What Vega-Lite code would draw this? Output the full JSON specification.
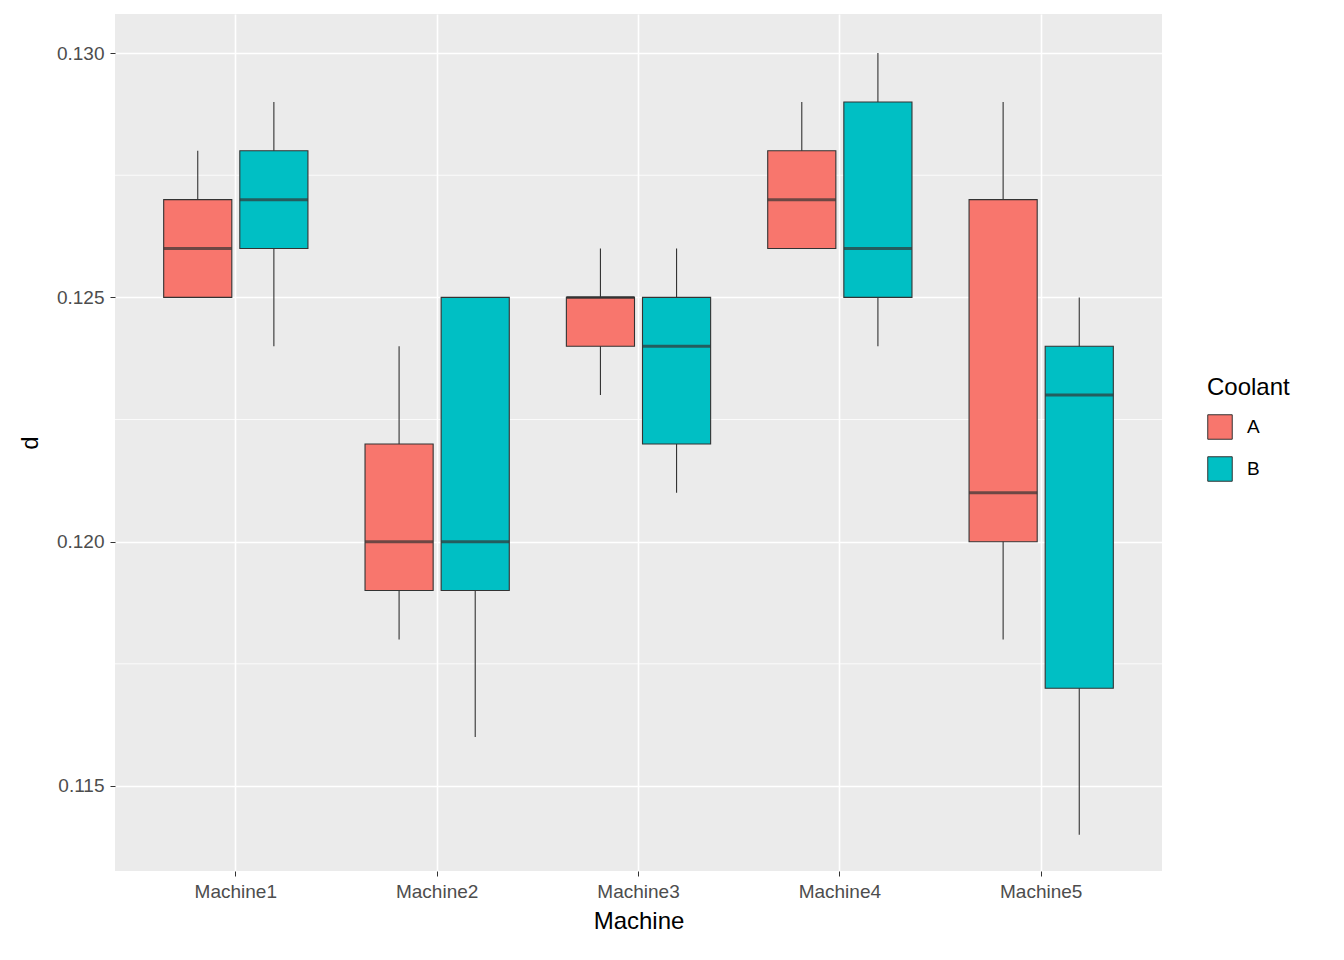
{
  "$schema": "https://vega.github.io/schema/vega-lite/v6.json",
  "width": 1047,
  "height": 857,
  "autosize": {"type": "pad"},
  "padding": {"left": 18, "top": 14, "right": 5, "bottom": 5},
  "datasets": {
    "box": [
      {"Machine": "Machine1", "Coolant": "A", "lower": 0.125, "q1": 0.125, "median": 0.126, "q3": 0.127, "upper": 0.128},
      {"Machine": "Machine1", "Coolant": "B", "lower": 0.124, "q1": 0.126, "median": 0.127, "q3": 0.128, "upper": 0.129},
      {"Machine": "Machine2", "Coolant": "A", "lower": 0.118, "q1": 0.119, "median": 0.120, "q3": 0.122, "upper": 0.124},
      {"Machine": "Machine2", "Coolant": "B", "lower": 0.116, "q1": 0.119, "median": 0.120, "q3": 0.125, "upper": 0.125},
      {"Machine": "Machine3", "Coolant": "A", "lower": 0.123, "q1": 0.124, "median": 0.125, "q3": 0.125, "upper": 0.126},
      {"Machine": "Machine3", "Coolant": "B", "lower": 0.121, "q1": 0.122, "median": 0.124, "q3": 0.125, "upper": 0.126},
      {"Machine": "Machine4", "Coolant": "A", "lower": 0.126, "q1": 0.126, "median": 0.127, "q3": 0.128, "upper": 0.129},
      {"Machine": "Machine4", "Coolant": "B", "lower": 0.124, "q1": 0.125, "median": 0.126, "q3": 0.129, "upper": 0.130},
      {"Machine": "Machine5", "Coolant": "A", "lower": 0.118, "q1": 0.120, "median": 0.121, "q3": 0.127, "upper": 0.129},
      {"Machine": "Machine5", "Coolant": "B", "lower": 0.114, "q1": 0.117, "median": 0.123, "q3": 0.124, "upper": 0.125}
    ],
    "minor": [{"v": 0.1175}, {"v": 0.1225}, {"v": 0.1275}]
  },
  "layer": [
    {
      "data": {"name": "minor"},
      "mark": {"type": "rule", "color": "white", "strokeWidth": 0.8},
      "encoding": {"y": {"field": "v", "type": "quantitative"}}
    },
    {
      "data": {"name": "box"},
      "encoding": {
        "x": {
          "field": "Machine", "type": "nominal",
          "scale": {"paddingInner": 0, "paddingOuter": 0.1},
          "axis": {"labelAngle": 0, "bandPosition": 0.5, "grid": true, "title": "Machine", "titlePadding": 8}
        },
        "xOffset": {
          "field": "Coolant", "type": "nominal",
          "scale": {"paddingInner": 0.105, "paddingOuter": 0.375}
        }
      },
      "layer": [
        {
          "mark": {"type": "rule", "color": "#333333", "strokeWidth": 1.1},
          "encoding": {
            "y": {"field": "lower", "type": "quantitative",
                  "scale": {"domain": [0.11326, 0.1308], "nice": false, "zero": false},
                  "axis": {"values": [0.115, 0.12, 0.125, 0.13], "format": ".3f", "title": "d", "titlePadding": 14}},
            "y2": {"field": "upper"}
          }
        },
        {
          "mark": {"type": "bar", "stroke": "#333333", "strokeWidth": 1.1},
          "encoding": {
            "y": {"field": "q1", "type": "quantitative"},
            "y2": {"field": "q3"},
            "color": {
              "field": "Coolant", "type": "nominal",
              "scale": {"domain": ["A", "B"], "range": ["#F8766D", "#00BFC4"]},
              "legend": {"title": "Coolant", "orient": "none", "legendX": 1092, "legendY": 362, "symbolType": "square", "symbolSize": 600, "symbolStrokeColor": "#333333", "symbolStrokeWidth": 1, "rowPadding": 12, "labelOffset": 14}
            }
          }
        },
        {
          "mark": {"type": "tick", "color": "#333333", "thickness": 3, "size": 68},
          "encoding": {"y": {"field": "median", "type": "quantitative"}}
        }
      ]
    }
  ],
  "config": {
    "view": {"fill": "#EBEBEB", "stroke": null},
    "font": "Liberation Sans",
    "axis": {
      "gridColor": "white", "gridWidth": 1.6, "domain": false,
      "tickColor": "#333333", "tickSize": 5, "labelPadding": 6,
      "labelColor": "#4D4D4D", "labelFontSize": 19,
      "titleFontSize": 24, "titleFontWeight": "normal", "titleColor": "black"
    },
    "legend": {"titleFontSize": 24, "titleFontWeight": "normal", "titlePadding": 14, "labelFontSize": 19}
  }
}
